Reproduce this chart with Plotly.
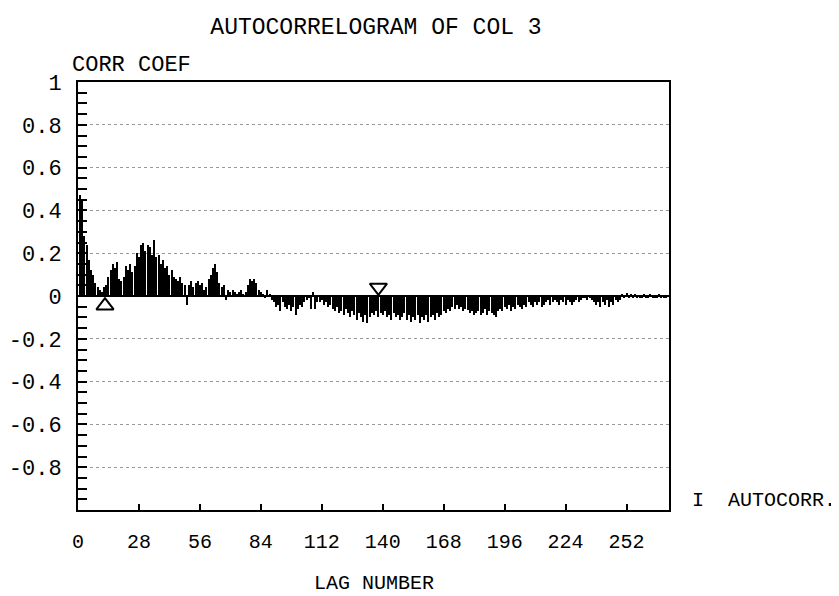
import plotly.graph_objects as go

# ---- data ----
lags = list(range(1, 271))
autocorr = [
    0.47, 0.45, 0.28, 0.24, 0.17, 0.12, 0.10, 0.06, 0.04, 0.03,
    0.02, 0.04, 0.05, 0.09, 0.12, 0.15, 0.13, 0.16, 0.08, 0.07,
    0.09, 0.14, 0.12, 0.15, 0.11, 0.14, 0.20, 0.18, 0.24, 0.25,
    0.21, 0.24, 0.23, 0.19, 0.26, 0.18, 0.19, 0.15, 0.17, 0.13,
    0.14, 0.10, 0.12, 0.09, 0.08, 0.07, 0.09, 0.06, 0.05, -0.04,
    0.05, 0.07, 0.04, 0.06, 0.07, 0.05, 0.06, 0.03, 0.04, 0.08,
    0.10, 0.13, 0.15, 0.11, 0.06, 0.04, 0.05, -0.02, 0.03, 0.02,
    0.03, 0.02, 0.01, 0.02, 0.03, 0.01, 0.02, 0.05, 0.08, 0.07,
    0.08, 0.06, 0.03, 0.02, 0.01, -0.01, 0.03, 0.01, -0.02, -0.03,
    -0.05, -0.04, -0.07, -0.03, -0.05, -0.06, -0.04, -0.07, -0.05, -0.09,
    -0.06, -0.04, -0.05, -0.03, -0.02, -0.01, -0.06, 0.02, -0.06, -0.03,
    -0.03, -0.02, -0.04, -0.03, -0.05, -0.04, -0.06, -0.07, -0.05, -0.08,
    -0.07, -0.09, -0.06, -0.08, -0.10, -0.07, -0.09, -0.11, -0.08, -0.10,
    -0.12, -0.09, -0.125, -0.10, -0.08, -0.09, -0.07, -0.10, -0.08, -0.09,
    -0.07, -0.10, -0.09, -0.11, -0.08, -0.10, -0.09, -0.11, -0.10, -0.08,
    -0.11, -0.09, -0.12, -0.10, -0.11, -0.09, -0.125, -0.10, -0.11, -0.09,
    -0.12, -0.10, -0.09, -0.11, -0.08, -0.10, -0.09, -0.07, -0.08, -0.06,
    -0.07, -0.05, -0.06, -0.04, -0.06, -0.05, -0.07, -0.06, -0.065, -0.08,
    -0.07, -0.09, -0.08, -0.07, -0.09, -0.08, -0.06, -0.09, -0.07, -0.08,
    -0.09, -0.10, -0.07, -0.06, -0.07, -0.05, -0.06, -0.04, -0.07, -0.05,
    -0.06, -0.04, -0.05, -0.06, -0.04, -0.05, -0.03, -0.04, -0.05, -0.03,
    -0.04, -0.03, -0.05, -0.04, -0.03, -0.02, -0.04, -0.03, -0.02, -0.03,
    -0.04, -0.02, -0.03, -0.04, -0.02, -0.03, -0.04, -0.03, -0.02, -0.03,
    -0.02, -0.01, -0.01, -0.02, -0.01, -0.02, -0.03, -0.04, -0.03, -0.05,
    -0.03, -0.04, -0.02, -0.05, -0.03, -0.04, -0.02, -0.03, -0.02, 0.01,
    -0.01, 0.015, -0.01, 0.01, -0.01, 0.005, -0.01, -0.005, -0.01, 0.005,
    -0.01, -0.005, 0.005, -0.01, -0.005, -0.01, 0.005, -0.005, -0.01, -0.005,
]

up_marker_lag = [12.4]
up_marker_val = [-0.045]
down_marker_lag = [138]
down_marker_val = [0.04]

x_tick_vals = [0, 28, 56, 84, 112, 140, 168, 196, 224, 252]
x_tick_text = ["0", "28", "56", "84", "112", "140", "168", "196", "224", "252"]
y_tick_vals = [1, 0.8, 0.6, 0.4, 0.2, 0, -0.2, -0.4, -0.6, -0.8]
y_tick_text = ["1", "0.8", "0.6", "0.4", "0.2", "0", "-0.2", "-0.4", "-0.6", "-0.8"]

FONT = "Liberation Mono"

fig = go.Figure()
fig.add_trace(go.Bar(x=lags, y=autocorr, width=0.5,
                     marker=dict(color="black", line=dict(width=0)),
                     showlegend=False))
fig.add_trace(go.Scatter(x=up_marker_lag, y=up_marker_val, mode="markers",
                         marker=dict(symbol="triangle-up-open", size=15, color="black",
                                     line=dict(width=2, color="black")),
                         showlegend=False))
fig.add_trace(go.Scatter(x=down_marker_lag, y=down_marker_val, mode="markers",
                         marker=dict(symbol="triangle-down-open", size=15, color="black",
                                     line=dict(width=2, color="black")),
                         showlegend=False))

fig.update_layout(
    width=839, height=596,
    margin=dict(l=70, r=178, t=74, b=94),
    paper_bgcolor="white", plot_bgcolor="white",
    font=dict(family=FONT, color="black", size=20),
    bargap=0,
    title=dict(text="AUTOCORRELOGRAM OF COL 3", xref="container", yref="container",
               x=368 / 839, y=1 - 18 / 596, xanchor="center", yanchor="middle",
               font=dict(family=FONT, size=23, color="black")),
    xaxis=dict(range=[0, 271.5], tickmode="array", tickvals=x_tick_vals, ticktext=x_tick_text,
               ticks="inside", ticklen=6, tickwidth=1.5, tickcolor="black",
               showline=True, linecolor="black", linewidth=2, mirror=True,
               showgrid=False, zeroline=False, ticklabelstandoff=12, automargin=False,
               tickfont=dict(family=FONT, size=20, color="black")),
    yaxis=dict(range=[-1, 1], tickmode="array", tickvals=y_tick_vals, ticktext=y_tick_text,
               ticks="inside", ticklen=9, tickwidth=1.5, tickcolor="black",
               minor=dict(dtick=0.05, tick0=0, ticks="inside", ticklen=9, tickwidth=1.5,
                          tickcolor="black", showgrid=False),
               showline=True, linecolor="black", linewidth=2, mirror=True,
               showgrid=True, gridcolor="#999999", gridwidth=1, griddash="dot",
               zeroline=True, zerolinecolor="black", zerolinewidth=2,
               ticklabelstandoff=10, automargin=False,
               tickfont=dict(family=FONT, size=22, color="black")),
    annotations=[
        dict(text="CORR COEF", xref="paper", yref="paper", x=(62 - 70) / 591, y=(502 - 57) / 428,
             xanchor="left", yanchor="middle", showarrow=False,
             font=dict(family=FONT, size=22, color="black")),
        dict(text="LAG NUMBER", xref="paper", yref="paper", x=0.5, y=(502 - 575) / 428,
             xanchor="center", yanchor="middle", showarrow=False,
             font=dict(family=FONT, size=20, color="black")),
        dict(text="I  AUTOCORR.", xref="paper", yref="paper", x=(682 - 70) / 591, y=(502 - 492) / 428,
             xanchor="left", yanchor="middle", showarrow=False,
             font=dict(family=FONT, size=20, color="black")),
    ],
)

fig.write_html("out.html")
